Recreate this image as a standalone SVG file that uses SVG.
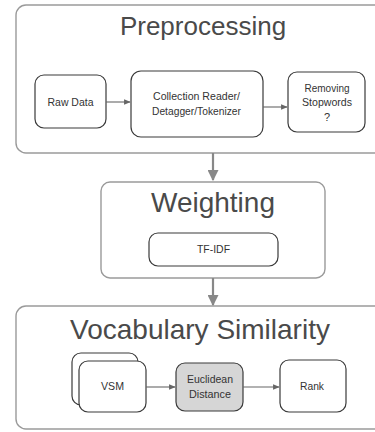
<svg xmlns="http://www.w3.org/2000/svg" width="375" height="432" viewBox="0 0 375 432">
  <style>
    .stage { fill: #ffffff; stroke: #9a9a9a; stroke-width: 1.4; }
    .box { fill: #ffffff; stroke: #3a3a3a; stroke-width: 1.2; }
    .box.shaded { fill: #d6d6d6; }
    .title { font-family: "Liberation Sans", Arial, sans-serif; fill: #4a4a4a; text-anchor: middle; }
    .label { font-family: "Liberation Sans", Arial, sans-serif; font-size: 11px; fill: #333333; text-anchor: middle; }
    .flow { stroke: #888888; stroke-width: 2.2; fill: none; }
    .step { stroke: #666666; stroke-width: 1.1; fill: none; }
  </style>
  <defs>
    <marker id="bigHead" viewBox="0 0 10 10" refX="9" refY="5" markerWidth="5" markerHeight="5" markerUnits="strokeWidth" orient="auto">
      <path d="M0,0 L10,5 L0,10 z" fill="#888888"/>
    </marker>
    <marker id="smallHead" viewBox="0 0 10 10" refX="9" refY="5" markerWidth="6" markerHeight="6" markerUnits="strokeWidth" orient="auto">
      <path d="M0,1 L10,5 L0,9 z" fill="#666666"/>
    </marker>
  </defs>

  <rect width="375" height="432" fill="#ffffff"/>

  <!-- Preprocessing stage -->
  <g id="preprocessing">
    <rect class="stage" x="16" y="5" width="380" height="148" rx="10"/>
    <text class="title" x="203" y="35" font-size="26">Preprocessing</text>
  </g>
  <g id="raw-data">
    <rect class="box" x="35" y="75" width="71" height="53" rx="9"/>
    <text class="label" x="70.5" y="105.5" textLength="46" lengthAdjust="spacingAndGlyphs">Raw Data</text>
  </g>
  <g id="collection-reader">
    <rect class="box" x="131" y="71" width="132" height="66" rx="10"/>
    <text class="label" x="196.5" y="100" textLength="87" lengthAdjust="spacingAndGlyphs">Collection Reader/</text>
    <text class="label" x="196.5" y="115" textLength="89" lengthAdjust="spacingAndGlyphs">Detagger/Tokenizer</text>
  </g>
  <g id="removing-stopwords">
    <rect class="box" x="288" y="72" width="77" height="60" rx="9"/>
    <text class="label" x="327" y="92" textLength="45" lengthAdjust="spacingAndGlyphs">Removing</text>
    <text class="label" x="327" y="106" textLength="50" lengthAdjust="spacingAndGlyphs">Stopwords</text>
    <text class="label" x="327" y="121">?</text>
  </g>

  <!-- Weighting stage -->
  <g id="weighting">
    <rect class="stage" x="101" y="182" width="224" height="96" rx="9"/>
    <text class="title" x="213" y="212" font-size="28">Weighting</text>
  </g>
  <g id="tf-idf">
    <rect class="box" x="149" y="233" width="129" height="33" rx="9"/>
    <text class="label" x="213.5" y="253" textLength="33" lengthAdjust="spacingAndGlyphs">TF-IDF</text>
  </g>

  <!-- Vocabulary Similarity stage -->
  <g id="vocabulary-similarity">
    <rect class="stage" x="16" y="306" width="380" height="123" rx="10"/>
    <text class="title" x="200" y="339" font-size="28">Vocabulary Similarity</text>
  </g>
  <g id="vsm">
    <rect class="box" x="72" y="353" width="66" height="52" rx="9"/>
    <rect class="box" x="79" y="361" width="67" height="51" rx="9"/>
    <text class="label" x="112.5" y="390" textLength="23" lengthAdjust="spacingAndGlyphs">VSM</text>
  </g>
  <g id="euclidean-distance">
    <rect class="box shaded" x="176" y="363" width="67" height="48" rx="9"/>
    <text class="label" x="210" y="383" textLength="46" lengthAdjust="spacingAndGlyphs">Euclidean</text>
    <text class="label" x="210" y="398" textLength="42" lengthAdjust="spacingAndGlyphs">Distance</text>
  </g>
  <g id="rank">
    <rect class="box" x="280" y="360" width="66" height="52" rx="9"/>
    <text class="label" x="312" y="390" textLength="24" lengthAdjust="spacingAndGlyphs">Rank</text>
  </g>

  <!-- Connectors -->
  <g id="connectors">
    <line class="flow" x1="213" y1="153" x2="213" y2="180" marker-end="url(#bigHead)"/>
    <line class="flow" x1="213" y1="278" x2="213" y2="305" marker-end="url(#bigHead)"/>
    <line class="step" x1="106" y1="102" x2="130" y2="102" marker-end="url(#smallHead)"/>
    <line class="step" x1="263" y1="107" x2="287" y2="107" marker-end="url(#smallHead)"/>
    <line class="step" x1="146" y1="387" x2="175" y2="387" marker-end="url(#smallHead)"/>
    <line class="step" x1="243" y1="387" x2="279" y2="387" marker-end="url(#smallHead)"/>
  </g>
</svg>
